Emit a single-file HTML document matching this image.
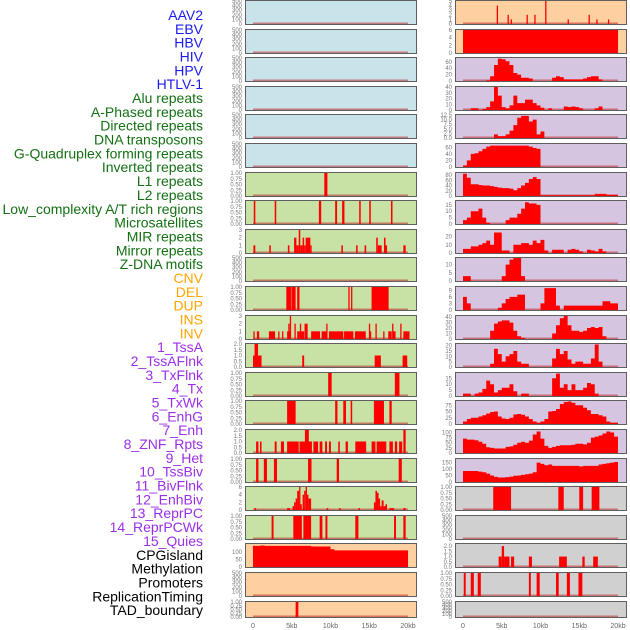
<!DOCTYPE html>
<html><head><meta charset="utf-8"><style>
html,body{margin:0;padding:0;background:#fff;}
svg{display:block;font-family:"Liberation Sans",sans-serif;}
</style></head><body>
<svg id="c" width="630" height="630"></svg>
<script>
const trackLabels=["AAV2","EBV","HBV","HIV","HPV","HTLV-1","Alu repeats","A-Phased repeats","Directed repeats","DNA transposons","G-Quadruplex forming repeats","Inverted repeats","L1 repeats","L2 repeats","Low_complexity A/T rich regions","Microsatellites","MIR repeats","Mirror repeats","Z-DNA motifs","CNV","DEL","DUP","INS","INV","1_TssA","2_TssAFlnk","3_TxFlnk","4_Tx","5_TxWk","6_EnhG","7_Enh","8_ZNF_Rpts","9_Het","10_TssBiv","11_BivFlnk","12_EnhBiv","13_ReprPC","14_ReprPCWk","15_Quies","CPGisland","Methylation","Promoters","ReplicationTiming","TAD_boundary"];
const labelGroups=[6,13,5,15,5];
const xTicks=[0,5,10,15,20];
const xTickLabels=["0","5kb","10kb","15kb","20kb"];
const t500=["0","100","200","300","400","500"];
const t01=["0.00","0.25","0.50","0.75","1.00"];
// bar segments [startKb,endKb,value]
const L7=[[9.2,9.6,1]];
const L8=[[0.1,0.3,1],[2.8,3.0,1],[8.5,8.8,1],[10.6,10.85,1],[11.5,11.8,1],[13.7,13.9,1],[15.0,15.2,1],[17.8,18.0,1]];
const L9=[[0.05,0.3,1],[2.1,2.3,1],[4.5,4.7,1],[5.3,5.6,2],[5.6,5.9,1],[5.9,6.1,3],[6.1,6.4,1],[6.4,6.6,2],[6.6,6.8,1],[6.8,7.4,2],[7.4,7.5,1],[11.4,11.6,1],[13.3,13.5,1],[14.4,14.6,1],[15.9,16.1,2],[16.1,16.6,1],[16.9,17.1,2],[17.1,17.3,1],[19.4,19.7,1]];
const L11=[[4.3,4.9,1],[4.95,5.5,1],[5.7,6.0,1],[12.3,12.45,1],[12.65,12.8,1],[15.3,17.5,1]];
const L12=[[0.05,0.2,1],[0.5,0.8,1],[2.05,2.85,1],[3.25,3.4,1],[3.75,3.9,1],[4.4,4.85,1],[4.55,4.7,2],[4.75,4.85,3],[5.35,5.5,2],[5.7,6.05,1],[6.05,6.2,2],[6.2,6.6,1],[6.65,7.05,2],[7.5,8.65,1],[8.85,9.6,1],[9.45,9.55,2],[9.8,11.65,1],[11.75,12.95,1],[13.15,14.55,1],[14.95,15.05,2],[15.05,15.25,1],[15.8,15.9,2],[16.8,16.95,1],[17.45,17.9,1],[17.95,18.05,2],[18.05,18.4,1],[19.0,19.1,2],[19.4,20.2,1]];
const L13=[[0,0.2,1],[0.2,0.65,2],[0.65,1.1,1],[6.35,6.6,1],[15.7,16.5,1],[19.3,19.9,1]];
const L14=[[9.7,10.15,1],[18.3,18.9,1]];
const L15=[[4.4,5.5,1],[10.6,10.9,1],[11.65,12.0,1],[12.6,12.8,1],[15.6,16.9,1],[17.6,17.9,1]];
const L16=[[0.4,0.7,1],[0.9,1.1,1],[2.8,3.05,1],[3.6,4.0,1],[4.4,5.9,1],[6.0,7.6,1],[6.7,7.2,2],[7.8,8.4,1],[8.6,8.95,1],[9.3,9.55,1],[9.8,10.05,1],[11.0,11.2,1],[11.95,12.25,1],[13.2,14.6,1],[15.3,15.8,1],[15.95,17.2,1],[17.6,18.05,1],[18.3,18.6,1],[18.85,19.25,1],[19.4,19.7,2]];
const L17=[[0.4,0.7,1],[1.4,1.8,1],[2.7,3.1,1],[7.1,7.55,1],[10.8,11.1,1],[18.8,19.2,1]];
const L18=[[0.2,0.4,0.5],[4.4,4.8,0.5],[5.1,5.3,1],[5.3,5.5,2],[5.5,5.7,3],[5.7,5.95,5],[5.95,6.1,6],[6.1,6.3,1.5],[6.4,6.6,4],[6.6,6.8,5],[6.8,6.95,6],[6.95,7.15,4],[7.15,7.5,3],[9.5,9.7,0.5],[11.1,11.3,0.5],[13.6,13.8,0.5],[15.6,15.8,2],[15.8,16.0,5],[16.0,16.2,4.5],[16.2,16.4,3],[16.4,16.6,1],[16.6,16.85,2.5],[16.85,17.1,1],[17.1,17.3,1.5],[17.6,18.2,0.5],[19.4,19.7,0.5]];
const L19=[[2.4,2.65,1],[5.2,6.3,1],[6.5,7.5,1],[8.6,8.95,1],[9.35,9.6,1],[13.2,13.6,1],[18.2,18.45,1],[19.4,19.7,1]];
const L22=[[5.5,5.85,1]];
const R1=[[4.35,4.5,4],[5.75,5.9,2],[6.15,6.3,1],[8.2,8.35,2],[9.2,9.35,2],[10.6,10.75,5],[13.5,13.65,1],[16.2,16.35,2],[17.2,17.35,1],[18.7,18.85,1]];
const R2=[[0,20,6]];
const R18=[[3.9,6.2,1],[12.3,13.0,1],[15.0,15.5,1],[16.6,17.6,1]];
const R20=[[4.6,5.0,1],[5.0,5.3,2],[5.3,6.0,1],[6.2,6.6,1],[8.5,8.9,1],[12.4,13.4,1],[15.4,15.7,1],[16.8,17.4,1]];
const R21=[[0.1,0.35,1],[1.0,1.4,1],[1.9,2.3,1],[8.5,8.75,1],[9.5,9.9,1],[12.0,12.35,1],[13.4,13.8,1],[14.9,15.4,1]];
// binned series (0.5kb bins)
const L20=[142,142,145,142,142,142,142,142,142,142,142,142,142,142,142,138,138,138,138,138,120,112,112,112,112,112,112,112,112,112,112,112,112,112,112,112,112,112,112,112];
const R3=[0,0,0,0,0,0,2,15,50,70,68,62,50,25,20,10,10,8,0,0,0,0,0,10,15,12,5,5,5,5,5,8,12,15,15,5,0,0,0,0];
const R4=[0,0,3,3,0,2,5,15,40,25,5,3,8,25,12,12,18,18,12,8,4,0,3,0,0,0,6,5,6,5,3,0,0,0,3,6,0,0,0,0];
const R5=[0,0,0,0,0,0,0,0,2,1,1,2,4,7,11,12,12,9,10,2,3.5,0,0,0,0,0,0,0,0,0,0,0,0,0,0,0,0,0,0,0];
const R6=[5,20,40,42,48,55,62,65,65,65,65,65,65,65,65,65,65,62,58,55,0,0,0,0,0,0,0,0,0,0,0,0,0,0,0,0,0,0,0,0];
const R7=[85,70,45,45,42,40,40,38,35,32,30,30,28,22,30,40,50,65,72,65,3,3,3,3,3,3,3,3,3,3,3,3,3,3,8,8,8,5,5,5];
const R8=[3,5,10,10,12,5,1,0,0,0,0,3,5,5,8,12,17,16,16,15,0,0,0,0,0,0,0,0,0,0,0,0,0,0,0,0,0,0,0,0];
const R9=[5,5,8,8,10,12,15,10,25,25,3,3,0,10,10,12,12,10,15,12,16,3,0,4,4,4,0,4,5,4,2,0,4,3,2,5,2,0,0,0];
const R10=[3,3,0,0,0,0,0,0,0,0,3,10,13,14,14,3,0,0,0,0,0,0,0,0,0,0,0,0,0,0,0,0,0,0,0,0,0,0,0,0];
const R11=[6,3,0,0,0,0,0,0,0,1,3,5,6,6,7,7,0,0,0,0,3,10,10,10,2,0,2,2,2,2,2,2,2,2,2,2,4,4,3,3];
const R12=[0,0,0,0,0,0,0,15,28,32,34,34,30,15,5,2,0,0,0,0,0,0,0,10,25,38,42,25,15,15,13,15,20,22,20,22,5,0,0,0];
const R13=[0,0,0,0,0,0,0,3,17,12,5,10,12,15,5,3,3,0,0,0,0,0,0,8,17,12,15,7,3,5,5,3,3,8,21,5,0,0,0,0];
const R14=[2,2,0,2,3,6,13,10,3,5,7,7,10,4,0,2,2,0,0,0,0,0,0,15,19,7,10,5,10,5,5,7,11,10,2,0,0,0,0,0];
const R15=[10,20,25,25,30,35,42,48,50,30,22,20,25,38,40,37,30,20,10,5,10,20,50,52,60,80,88,90,85,75,75,65,55,40,40,35,30,10,5,5];
const R16=[70,65,65,62,55,45,28,25,22,22,22,30,32,40,50,55,50,60,90,105,70,35,25,30,35,38,38,38,40,45,45,42,50,75,80,85,95,105,100,80];
const R17=[85,85,85,85,80,75,65,50,40,35,35,38,42,48,50,55,60,65,75,150,140,130,135,125,125,125,125,125,125,125,120,125,125,125,125,135,140,145,150,155];

const BL='#c9e3eb',GR='#c8e1a5',OR='#fecf9f',PU='#d5c5e1',GY='#d0d0d0';
function P(bg,ymax,tv,tl,bars,area){return {bg,ymax,tv,tl,bars,area};}
const t5v=[0,100,200,300,400,500],t1v=[0,.25,.5,.75,1];
const leftPanels=[
P(BL,500,t5v,t500),P(BL,500,t5v,t500),P(BL,500,t5v,t500),P(BL,500,t5v,t500),P(BL,500,t5v,t500),P(BL,500,t5v,t500),
P(GR,1,t1v,t01,L7),P(GR,1,t1v,t01,L8),P(GR,3,[0,1,2,3],["0","1","2","3"],L9),P(GR,500,t5v,t500),
P(GR,1,t1v,t01,L11),P(GR,3,[0,1,2,3],["0","1","2","3"],L12),P(GR,2,[0,.5,1,1.5,2],["0.0","0.5","1.0","1.5","2.0"],L13),
P(GR,1,t1v,t01,L14),P(GR,1,t1v,t01,L15),P(GR,2,[0,.5,1,1.5,2],["0.0","0.5","1.0","1.5","2.0"],L16),P(GR,1,t1v,t01,L17),
P(GR,6,[0,2,4,6],["0","2","4","6"],L18),P(GR,1,t1v,t01,L19),
P(OR,155,[0,50,100],["0","50","100"],null,L20),P(OR,500,t5v,t500),P(OR,1,t1v,t01,L22)];
const rightPanels=[
P(OR,5,[0,1,2,3,4,5],["0","1","2","3","4","5"],R1),P(OR,6,[0,2,4,6],["0","2","4","6"],R2),
P(PU,72,[0,20,40,60],["0","20","40","60"],null,R3),P(PU,40,[0,10,20,30,40],["0","10","20","30","40"],null,R4),
P(PU,12.5,[0,2.5,5,7.5,10,12.5],["0.0","2.5","5.0","7.5","10.0","12.5"],null,R5),P(PU,70,[0,20,40,60],["0","20","40","60"],null,R6),
P(PU,88,[0,20,40,60,80],["0","20","40","60","80"],null,R7),P(PU,18,[0,5,10,15],["0","5","10","15"],null,R8),
P(PU,28,[0,10,20],["0","10","20"],null,R9),P(PU,14,[0,5,10],["0","5","10"],null,R10),
P(PU,10.5,[0,3,6,9],["0","3","6","9"],null,R11),P(PU,42,[0,10,20,30,40],["0","10","20","30","40"],null,R12),
P(PU,21.5,[0,5,10,15,20],["0","5","10","15","20"],null,R13),P(PU,19.5,[0,5,10,15],["0","5","10","15"],null,R14),
P(PU,92,[0,25,50,75],["0","25","50","75"],null,R15),P(PU,112,[0,25,50,75,100],["0","25","50","75","100"],null,R16),
P(PU,178,[0,50,100,150],["0","50","100","150"],null,R17),
P(GY,1,t1v,t01,R18),P(GY,500,t5v,t500),P(GY,2.2,[0,.5,1,1.5,2],["0.0","0.5","1.0","1.5","2.0"],R20),P(GY,1,t1v,t01,R21),P(GY,500,t5v,t500)];

const svg=document.getElementById('c');
const NS='http://www.w3.org/2000/svg';
function el(tag,attrs,parent){const e=document.createElementNS(NS,tag);for(const k in attrs)e.setAttribute(k,attrs[k]);(parent||svg).appendChild(e);return e;}

// labels
const groupColors=['#1b1bf0','#137013','#ffa500','#9a2fe8','#000000'];
let gi=0,cnt=0;
trackLabels.forEach((t,i)=>{
  while(cnt>=labelGroups[gi]){cnt=0;gi++;}
  cnt++;
  const tx=el('text',{x:203,y:15+i*13.84+5,'text-anchor':'end','font-size':'14',fill:groupColors[gi]});
  tx.textContent=t;
  
  
});

function drawPanel(p,r,left,name){
  const top=Math.round(r*28.6), h=(r===21?17:25), w=172;
  const g=el('g',{});
  
  
  el('rect',{x:left,y:top,width:w,height:h,fill:p.bg},g);
  const x0=left+8,k=7.75;
  const xs=v=>x0+v*k;
  const ys=v=>top+h-1-v/p.ymax*(h-2);
  el('line',{x1:xs(0),x2:xs(20),y1:ys(0)-0.5,y2:ys(0)-0.5,stroke:'rgba(190,40,40,0.55)','stroke-width':2},g);
  if(p.bars){p.bars.forEach(b=>{
    const bx=xs(b[0]),bw=Math.max(1.3,xs(b[1])-xs(b[0]));
    const rr=el('rect',{x:bx,y:ys(b[2]),width:bw,height:ys(0)-ys(b[2]),fill:'#ff0000'},g);
    
    
  });}
  if(p.area){
    let d='M'+xs(0)+','+ys(0);
    p.area.forEach((v,i)=>{d+=' L'+xs(i*0.5)+','+ys(v)+' L'+xs(i*0.5+0.5)+','+ys(v);});
    d+=' L'+xs(20)+','+ys(0)+' Z';
    const pa=el('path',{d:d,fill:'#ff0000'},g);
    
    
  }
  el('rect',{x:left+0.5,y:top+0.5,width:w-1,height:h-1,fill:'none',stroke:'#5f5f5f','stroke-width':1},g);
  p.tv.forEach((v,i)=>{
    const tt=el('text',{x:left-3,y:ys(v)+2,'text-anchor':'end','font-size':'6',fill:'#777'},g);
    tt.textContent=p.tl[i];
    
    
  });
}
leftPanels.forEach((p,r)=>drawPanel(p,r,245,'left-track-panel'));
rightPanels.forEach((p,r)=>drawPanel(p,r,455,'right-track-panel'));
[245,455].forEach(left=>{
  xTicks.forEach((v,i)=>{
    const tx=el('text',{x:left+8+v*7.75,y:628,'text-anchor':'middle','font-size':'7',fill:'#666'});
    tx.textContent=xTickLabels[i];
    
    
  });
});
</script>
</body></html>
